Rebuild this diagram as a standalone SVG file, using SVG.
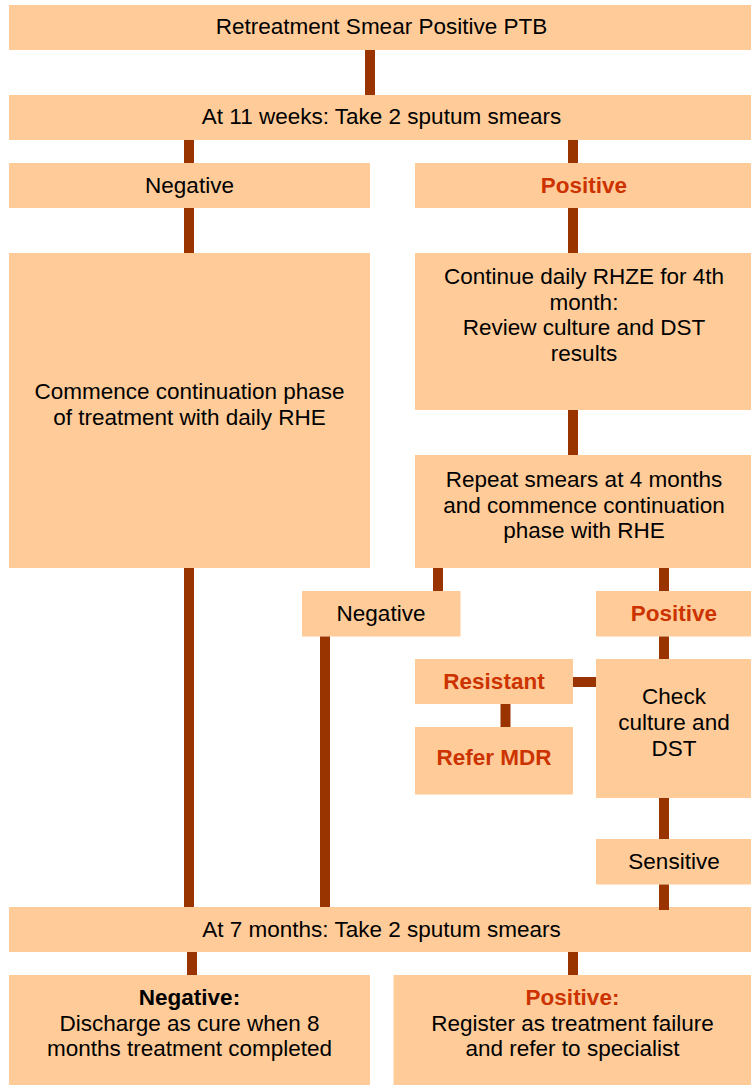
<svg xmlns="http://www.w3.org/2000/svg" width="751" height="1085" viewBox="0 0 751 1085">
<style>
.box{fill:#FFCC99;stroke:none}
.t{font-family:"Liberation Sans",Arial,Helvetica,sans-serif;font-size:22.5px;fill:#000;text-anchor:middle}
.b{font-weight:bold}
.r{fill:#CC3300;font-weight:bold}
.c{stroke:#993300;stroke-width:10;fill:none}
</style>
<rect width="751" height="1085" fill="#fff"/>
<g id="n1"><rect class="box" x="9" y="5" width="742" height="45"/><text class="t" x="381.5" y="34">Retreatment Smear Positive PTB</text></g>
<g id="n2"><rect class="box" x="9" y="95" width="742" height="45"/><text class="t" x="381.5" y="124">At 11 weeks: Take 2 sputum smears</text></g>
<g id="n3"><rect class="box" x="9" y="163" width="361" height="45"/><text class="t" x="189.5" y="193">Negative</text></g>
<g id="n4"><rect class="box" x="415" y="163" width="336" height="45"/><text class="t r" x="584" y="193">Positive</text></g>
<g id="n5"><rect class="box" x="9" y="253" width="361" height="315"/><text class="t" x="189.5" y="399">Commence continuation phase</text><text class="t" x="189.5" y="424.5">of treatment with daily RHE</text></g>
<g id="n6"><rect class="box" x="415" y="253" width="336" height="157"/><text class="t" x="584" y="284">Continue daily RHZE for 4th</text><text class="t" x="584" y="309.5">month:</text><text class="t" x="584" y="335">Review culture and DST</text><text class="t" x="584" y="360.5">results</text></g>
<g id="n7"><rect class="box" x="415" y="455" width="336" height="113"/><text class="t" x="584" y="487">Repeat smears at 4 months</text><text class="t" x="584" y="512.5">and commence continuation</text><text class="t" x="584" y="538">phase with RHE</text></g>
<g id="n8"><rect class="box" x="302" y="591" width="158.5" height="45.5"/><text class="t" x="381" y="621">Negative</text></g>
<g id="n9"><rect class="box" x="596" y="591" width="155" height="45.5"/><text class="t r" x="674" y="621">Positive</text></g>
<g id="n10"><rect class="box" x="415" y="659" width="158" height="45"/><text class="t r" x="494" y="689">Resistant</text></g>
<g id="n11"><rect class="box" x="415" y="727" width="158" height="67.5"/><text class="t r" x="494" y="765">Refer MDR</text></g>
<g id="n12"><rect class="box" x="596" y="659" width="155" height="139"/><text class="t" x="674" y="703.5">Check</text><text class="t" x="674" y="729.5">culture and</text><text class="t" x="674" y="755.5">DST</text></g>
<g id="n13"><rect class="box" x="596" y="839" width="155" height="45.5"/><text class="t" x="674" y="869">Sensitive</text></g>
<g id="n14"><rect class="box" x="9" y="907" width="742" height="45"/><text class="t" x="381.5" y="936.5">At 7 months: Take 2 sputum smears</text></g>
<g id="n15"><rect class="box" x="9" y="975" width="361" height="110"/><text class="t b" x="189.5" y="1005">Negative:</text><text class="t" x="189.5" y="1030.5">Discharge as cure when 8</text><text class="t" x="189.5" y="1056">months treatment completed</text></g>
<g id="n16"><rect class="box" x="393.5" y="975" width="357.5" height="110"/><text class="t r" x="572.5" y="1005">Positive:</text><text class="t" x="572.5" y="1030.5">Register as treatment failure</text><text class="t" x="572.5" y="1056">and refer to specialist</text></g>
<g id="connectors">
<line class="c" x1="370" y1="50" x2="370" y2="95"/>
<line class="c" x1="189" y1="140" x2="189" y2="163"/>
<line class="c" x1="573" y1="140" x2="573" y2="163"/>
<line class="c" x1="189" y1="208" x2="189" y2="253"/>
<line class="c" x1="573" y1="208" x2="573" y2="253"/>
<line class="c" x1="573" y1="410" x2="573" y2="455"/>
<line class="c" x1="438" y1="568" x2="438" y2="591"/>
<line class="c" x1="664" y1="568" x2="664" y2="591"/>
<line class="c" x1="189" y1="568" x2="189" y2="907"/>
<line class="c" x1="325" y1="636.5" x2="325" y2="907"/>
<line class="c" x1="664" y1="636.5" x2="664" y2="659"/>
<line class="c" x1="573" y1="682" x2="596" y2="682"/>
<line class="c" x1="505.5" y1="704" x2="505.5" y2="727"/>
<line class="c" x1="664" y1="798" x2="664" y2="839"/>
<line class="c" x1="664" y1="884.5" x2="664" y2="910"/>
<line class="c" x1="192" y1="952" x2="192" y2="975"/>
<line class="c" x1="573" y1="952" x2="573" y2="975"/>
</g>
</svg>
